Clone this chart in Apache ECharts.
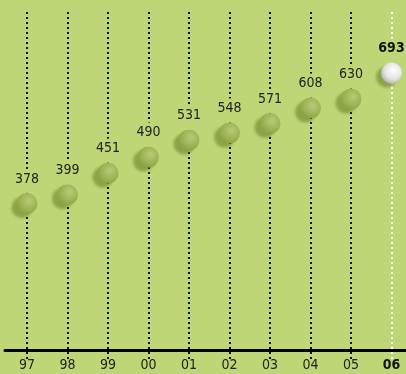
<!DOCTYPE html>
<html><head><meta charset="utf-8">
<style>html,body{margin:0;padding:0;background:#bed675;}#c{width:406px;height:374px;}</style>
<script src="https://cdn.jsdelivr.net/npm/echarts@6/dist/echarts.min.js"></script>
</head><body><div id="c"></div>
<script>
var categories = ['97','98','99','00','01','02','03','04','05','06'];
var values = [378, 399, 451, 490, 531, 548, 571, 608, 630, 693];
var highlightIndex = 9;

var BG = '#bed675';
var FONT = "'DejaVu Sans Condensed', 'DejaVu Sans', sans-serif";
var greenBall = {type:'radial', x:0.6, y:0.38, r:0.68, colorStops:[
  {offset:0, color:'#b8ca78'},{offset:0.6, color:'#9db355'},{offset:1, color:'#87a040'}]};
var whiteBall = {type:'radial', x:0.6, y:0.38, r:0.68, colorStops:[
  {offset:0, color:'#ffffff'},{offset:0.6, color:'#e4e4e4'},{offset:1, color:'#b0b0b0'}]};

var data = values.map(function(v, i){
  var hi = i === highlightIndex;
  return {
    value: v,
    itemStyle: {color: hi ? whiteBall : greenBall},
    label: {fontWeight: hi ? 'bold' : 'normal', color: hi ? '#111' : '#222'}
  };
});
var lineColors = categories.map(function(c, i){ return i === highlightIndex ? '#ffffff' : '#111111'; });

var chart = echarts.init(document.getElementById('c'));
chart.setOption({
  backgroundColor: BG,
  animation: false,
  grid: [
    {left: 27, right: 14.5, top: 12, bottom: 14},
    {left: 5, right: 0, top: 12, bottom: 23.5}
  ],
  xAxis: [{
    type: 'category', data: categories, gridIndex: 0, boundaryGap: false, offset: -10,
    axisLine: {show: false}, axisTick: {show: false},
    axisLabel: {interval: 0, margin: 8, color: '#222', fontSize: 14, fontFamily: FONT,
      formatter: function(v, i){ return i === highlightIndex ? '{b|' + v + '}' : v; },
      rich: {b: {fontWeight: 'bold', color: '#111', fontSize: 14, fontFamily: FONT}}},
    splitLine: {show: true, interval: 0, lineStyle: {color: lineColors, width: 2, type: [2, 3]}}
  }, {
    type: 'category', data: categories, gridIndex: 1,
    axisLine: {show: true, lineStyle: {color: '#000', width: 3}},
    axisTick: {show: false}, axisLabel: {show: false}, splitLine: {show: false}
  }],
  yAxis: [
    {type: 'value', gridIndex: 0, min: 0, max: 840, show: false, splitLine: {show: false}},
    {type: 'value', gridIndex: 1, show: false, splitLine: {show: false}}
  ],
  series: [{
    type: 'scatter', xAxisIndex: 0, yAxisIndex: 0,
    symbol: 'circle', symbolSize: 21, z: 5,
    itemStyle: {opacity: 1, shadowColor: 'rgba(80,100,20,0.45)', shadowBlur: 3, shadowOffsetX: -5, shadowOffsetY: 4},
    label: {show: true, position: 'top', distance: 0, color: '#222', fontSize: 14, fontFamily: FONT,
      backgroundColor: BG, padding: [3, 2, 7, 2]},
    emphasis: {disabled: true},
    data: data
  }]
});
</script></body></html>
